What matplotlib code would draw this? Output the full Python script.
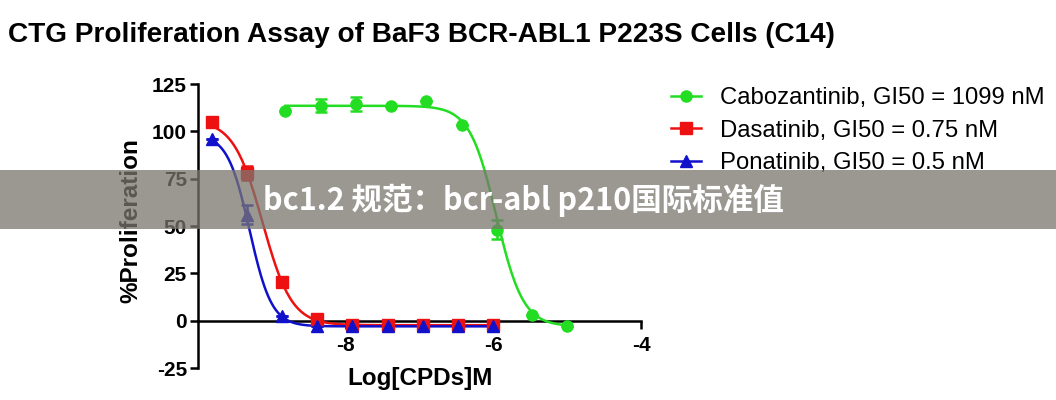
import numpy as np
import matplotlib
matplotlib.use("Agg")
import matplotlib.pyplot as plt
from matplotlib.patches import Rectangle

# ---- data ----
x_cabo = [-8.816, -8.339, -7.862, -7.385, -6.908, -6.431, -5.954, -5.477, -5.0]
y_cabo = [110.9, 113.6, 114.4, 113.2, 116.2, 103.3, 48.0, 3.0, -2.6]
e_cabo = [0, 3.5, 3.5, 0, 0, 0, 5.0, 0, 0]

x_tki = [-9.816, -9.339, -8.862, -8.385, -7.908, -7.431, -6.954, -6.477, -6.0]
y_dasa = [104.8, 78.0, 20.6, 0.9, -2.1, -2.3, -2.4, -2.4, -2.4]
e_dasa = [0, 3.5, 0, 0, 0, 0, 0, 0, 0]
y_pona = [96.0, 56.0, 2.6, -2.6, -3.0, -3.0, -3.0, -3.0, -3.0]
e_pona = [0, 5.0, 0, 0, 0, 0, 0, 0, 0]

# fitted 4PL parameters: top, bottom, logGI50, hill
fit_cabo = (113.5, -3.0, -5.959, 2.4)
fit_dasa = (106.0, -2.4, -9.125, 2.2)
fit_pona = (98.5, -3.0, -9.301, 2.9)

labels = ["Cabozantinib, GI50 = 1099 nM",
          "Dasatinib, GI50 = 0.75 nM",
          "Ponatinib, GI50 = 0.5 nM"]
colors = ["#22dd22", "#ee1111", "#1111cc"]
markers = ["o", "s", "^"]

title = "CTG Proliferation Assay of BaF3 BCR-ABL1 P223S Cells (C14)"
banner = "bc1.2 规范：bcr-abl p210国际标准值"
xticks = [-8, -6, -4]
yticks = [-25, 0, 25, 50, 75, 100, 125]


def four_pl(x, p):
    top, bottom, x50, h = p
    return bottom + (top - bottom) / (1 + 10 ** ((x - x50) * h))


plt.rcParams['font.family'] = ['Liberation Sans', 'DejaVu Sans']
plt.rcParams['axes.unicode_minus'] = False

W, H = 1056, 400
fig = plt.figure(figsize=(W / 100, H / 100), dpi=100)
ax = fig.add_axes([198 / W, 1 - 368 / H, (641 - 198) / W, (368 - 84) / H])

series = [(x_cabo, y_cabo, e_cabo, fit_cabo),
          (x_tki, y_dasa, e_dasa, fit_dasa),
          (x_tki, y_pona, e_pona, fit_pona)]

handles = []
for (xs, ys, es, fp), c, m, lab in zip(series, colors, markers, labels):
    xf = np.linspace(min(xs), max(xs), 300)
    ax.plot(xf, four_pl(xf, fp), color=c, lw=1.8, zorder=3)
    ax.errorbar(xs, ys, yerr=es, fmt=m, color=c, ms=8 if m != "^" else 8.5,
                elinewidth=1.8, capsize=4, capthick=1.8, zorder=4)
    h, = ax.plot([], [], color=c, marker=m, lw=1.8, ms=8)
    handles.append(h)

ax.set_xlim(-10, -4)
ax.set_ylim(-25, 125)
ax.spines['top'].set_visible(False)
ax.spines['right'].set_visible(False)
ax.spines['bottom'].set_position(('data', 0))
for s in ['left', 'bottom']:
    ax.spines[s].set_linewidth(1.8)
ax.set_xticks(xticks)
ax.set_yticks(yticks)
ax.tick_params(axis='both', direction='out', length=6, width=1.8,
               labelsize=15)
ax.tick_params(axis='x', pad=5)
ax.tick_params(axis='y', pad=2)
for lbl in ax.get_xticklabels() + ax.get_yticklabels():
    lbl.set_fontweight('bold')
ax.set_ylabel("%Proliferation", fontsize=17.5, fontweight='bold')
ax.yaxis.set_label_coords(-0.126, 0.52)

fig.text(420 / W, 1 - 378 / H, "Log[CPDs]M", fontsize=17.5, fontweight='bold',
         ha='center', va='center')

fig.text(8 / W, 1 - 35 / H, title, fontsize=20.2, fontweight='bold',
         ha='left', va='center')

fig.legend(handles, labels, loc='upper left',
           bbox_to_anchor=(671 / W, 1 - 87 / H), frameon=False,
           fontsize=17.2, handlelength=1.25, handletextpad=0.8,
           labelspacing=0.44, borderaxespad=0, borderpad=0)

# overlay banner
fig.patches.append(Rectangle((0, 1 - 229 / H), 1, 59 / H,
                             transform=fig.transFigure,
                             facecolor=(122 / 255, 118 / 255, 110 / 255),
                             alpha=0.75, edgecolor='none', zorder=10))
fig.text(263 / W, 1 - 200 / H, banner, fontsize=22, fontweight='bold',
         color='white', ha='left', va='center', zorder=11,
         family=['Noto Sans CJK SC', 'DejaVu Sans'])

fig.savefig("out.png", dpi=100)
